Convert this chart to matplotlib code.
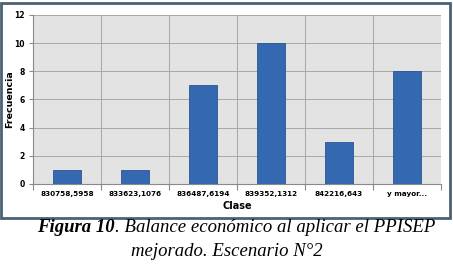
import matplotlib
matplotlib.use("Agg")
import matplotlib.pyplot as plt
from matplotlib.patches import Rectangle

# histogram classes and frequencies
clases = ["830758,5958", "833623,1076", "836487,6194",
          "839352,1312", "842216,643", "y mayor..."]
frecuencia = [1, 1, 7, 10, 3, 8]
y_ticks = [0, 2, 4, 6, 8, 10, 12]

fig = plt.figure(figsize=(4.53, 2.65), dpi=100)

# dark frame around the chart area
fig.patches.append(Rectangle((0.003, 0.178), 0.990, 0.812, transform=fig.transFigure,
                             fill=False, edgecolor="#4B6272", linewidth=2.0))

ax = fig.add_axes([0.073, 0.306, 0.900, 0.638])
ax.set_facecolor("#E3E3E3")

x = list(range(len(clases)))
ax.bar(x, frecuencia, width=0.41, color="#3468B0", edgecolor="#2A5590",
       linewidth=0.6, zorder=3)

ax.set_xlim(-0.5, len(clases) - 0.5)
ax.set_ylim(0, 12)
ax.set_yticks(y_ticks)
ax.set_yticklabels([str(v) for v in y_ticks], fontsize=5.5, fontweight="bold")

# category boundaries carry the vertical grid and ticks
ax.set_xticks([i - 0.5 for i in range(len(clases) + 1)])
ax.set_xticklabels([])
ax.set_xticks(x, minor=True)
ax.set_xticklabels(clases, minor=True, fontsize=5.2, fontweight="bold")
ax.tick_params(axis="x", which="minor", length=0, pad=5)
ax.tick_params(axis="x", which="major", length=4, color="#8A8A8A")
ax.tick_params(axis="y", length=3, color="#8A8A8A", pad=3)

ax.grid(True, which="major", color="#A8A8A8", linewidth=0.7, zorder=0)
ax.set_axisbelow(True)
for s in ["top", "right"]:
    ax.spines[s].set_visible(False)
for s in ["left", "bottom"]:
    ax.spines[s].set_color("#8A8A8A")
    ax.spines[s].set_linewidth(0.8)

ax.set_ylabel("Frecuencia", fontsize=6.8, fontweight="bold")
ax.yaxis.set_label_coords(-0.046, 0.5)
ax.set_xlabel("Clase", fontsize=7, fontweight="bold", labelpad=3)

# caption below the frame
cap_y1 = 0.143
t1 = fig.text(0.082, cap_y1, "Figura 10", family="Liberation Serif",
              style="italic", fontweight="bold", fontsize=13.5, va="center")
fig.canvas.draw()
bb = t1.get_window_extent()
x_end = bb.x1 / fig.bbox.width
fig.text(x_end, cap_y1, ". Balance económico al aplicar el PPISEP",
         family="Liberation Serif", style="italic", fontsize=13.5, va="center")
fig.text(0.5, 0.052, "mejorado. Escenario N°2", family="Liberation Serif",
         style="italic", fontsize=13.5, va="center", ha="center")

fig.savefig("out.png", dpi=100)
